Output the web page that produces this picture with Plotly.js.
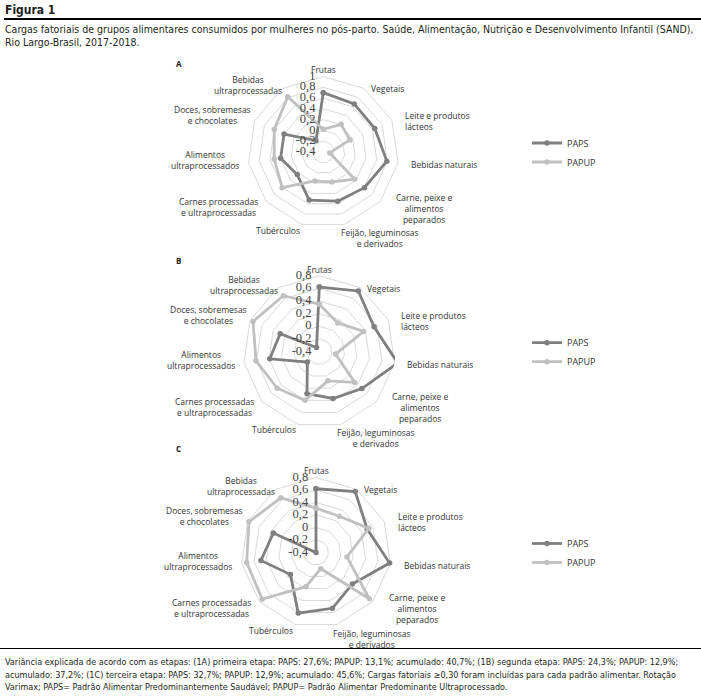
<!DOCTYPE html>
<html><head><meta charset="utf-8">
<script src="https://cdn.plot.ly/plotly-3.0.1.min.js"></script>
<style>
html,body{margin:0;padding:0;background:#fff;}
#wrap{position:relative;width:701px;height:696px;overflow:hidden;font-family:"DejaVu Sans Condensed","Liberation Sans Narrow",sans-serif;color:#231f20;}
#chart{position:absolute;left:0;top:0;width:701px;height:696px;}
.t{position:absolute;white-space:nowrap;}
.rule{position:absolute;background:#000;}
.pl{position:absolute;font-family:"Open Sans",sans-serif;font-weight:bold;font-size:8px;color:#222;}
</style></head><body>
<div id="wrap">
<div id="chart"></div>
<div class="t" style="left:5px;top:3px;font-weight:bold;font-size:12px;">Figura 1</div>
<div class="rule" style="left:4px;width:697px;top:18px;height:2px;"></div>
<div class="t" style="left:5px;top:23px;font-size:10.5px;line-height:12.5px;">Cargas fatoriais de grupos alimentares consumidos por mulheres no pós-parto. Saúde, Alimentação, Nutrição e Desenvolvimento Infantil (SAND),<br>Rio Largo-Brasil, 2017-2018.</div>
<div class="pl" style="left:176px;top:58px;">A</div>
<div class="pl" style="left:176px;top:255px;">B</div>
<div class="pl" style="left:176px;top:443px;">C</div>
<div class="rule" style="left:0px;width:701px;top:648px;height:1px;"></div>
<div class="t" style="left:5px;top:656px;font-size:9px;line-height:12.5px;">Variância explicada de acordo com as etapas: (1A) primeira etapa: PAPS: 27,6%; PAPUP: 13,1%; acumulado: 40,7%; (1B) segunda etapa: PAPS: 24,3%; PAPUP: 12,9%;<br>acumulado: 37,2%; (1C) terceira etapa: PAPS: 32,7%; PAPUP: 12,9%; acumulado: 45,6%; Cargas fatoriais ≥0,30 foram incluídas para cada padrão alimentar. Rotação<br>Varimax; PAPS= Padrão Alimentar Predominantemente Saudável; PAPUP= Padrão Alimentar Predominante Ultraprocessado.</div>
</div>
<script>
// Categories (food groups), clockwise from top
var categories = ["Frutas","Vegetais","Leite e produtos<br>lácteos","Bebidas naturais","Carne, peixe e<br>alimentos<br>peparados","Feijão, leguminosas<br>e derivados","Tubérculos","Carnes processadas<br>e ultraprocessadas","Alimentos<br>ultraprocessados","Doces, sobremesas<br>e chocolates","Bebidas<br>ultraprocessadas"];
var seriesNames = ["PAPS","PAPUP"];

// Factor loadings, panel A
var papsA  = [0.70, 0.66, 0.65, 0.79, 0.61, 0.55, 0.53, 0.24, 0.40, 0.40, -0.15];
var papupA = [0.02, 0.21, 0.14, -0.28, 0.37, 0.18, 0.16, 0.61, 0.52, 0.60, 0.82];
// Panel B
var papsB  = [0.62, 0.74, 0.55, 0.85, 0.49, 0.37, 0.29, -0.15, 0.39, 0.28, -0.32];
var papupB = [0.35, 0.14, 0.37, -0.14, 0.34, 0.08, 0.40, 0.48, 0.61, 0.75, 0.65];
// Panel C
var papsC  = [0.62, 0.76, 0.50, 0.79, 0.37, 0.53, 0.61, 0.14, 0.49, 0.35, -0.40];
var papupC = [0.31, 0.29, 0.53, 0.10, 0.73, -0.13, 0.17, 0.74, 0.72, 0.78, 0.64];

// Radial tick labels
var tickValsA = [-0.4,-0.2,0,0.2,0.4,0.6,0.8,1];
var tickTextA = ["-0,4","-0,2","0","0,2","0,4","0,6","0,8","1"];
var tickValsBC = [-0.4,-0.2,0,0.2,0.4,0.6,0.8];
var tickTextBC = ["-0,4","-0,2","0","0,2","0,4","0,6","0,8"];

// ---- presentation (positions / styles) ----
var colPAPS = "#7f7f7f", colPAPUP = "#c0c0c0";
var W = 701, H = 696;
// panel centres and radii in pixels
var panels = [
  {cx:323.3, cy:152,   R:75.5, range:[-0.4,1],   tv:tickValsA,  tt:tickTextA,  grid:"polar",  draw:"polar4", leg:"legend"},
  {cx:319.3, cy:351.7, R:76,   range:[-0.4,0.8], tv:tickValsBC, tt:tickTextBC, grid:"polar2", draw:"polar5", leg:"legend2"},
  {cx:316,   cy:552.5, R:75,   range:[-0.4,0.8], tv:tickValsBC, tt:tickTextBC, grid:"polar3", draw:"polar6", leg:"legend3"}
];
var seriesByPanel = [[papsA, papupA],[papsB, papupB],[papsC, papupC]];
// category label offsets from panel centre: [dx, dy, xanchor]
var labelOffsets = [
  [0,-82,"center"],[46,-63.5,"left"],[80,-30.5,"left"],[86,13,"left"],[100.7,56,"center"],
  [56.2,86,"center"],[-45,78,"center"],[-105,55,"center"],[-118,8,"center"],[-111.3,-36.5,"center"],[-75.5,-66.5,"center"]
];

function closeArr(a){ return a.concat([a[0]]); }
function mk(vals, name, color, polar, legend){
  return {type:"scatterpolar", r:closeArr(vals), theta:closeArr(categories), name:name,
    subplot:polar, legend:legend, mode:"lines+markers", cliponaxis:false, hoverinfo:"skip",
    line:{color:color,width:2.8}, marker:{color:color,size:5.5,symbol:"circle"}};
}
// radial value labels placed along the first (Frutas) spoke through the polar scale
function tickTrace(p){
  return {type:"scatterpolar", r:p.tv, theta:p.tv.map(function(){return categories[0];}),
    text:p.tt, subplot:p.draw, mode:"markers+text", textposition:"middle left",
    marker:{size:11, color:"rgba(0,0,0,0)"}, cliponaxis:false, showlegend:false, hoverinfo:"skip",
    textfont:{family:"Liberation Serif, serif", size:12.5, color:"#444"}};
}
// invisible anchor trace so the polygon-grid subplot is instantiated
function gridAnchor(p){
  return {type:"scatterpolar", r:[p.range[0]], theta:[categories[0]], subplot:p.grid, mode:"markers",
    marker:{size:1, color:"rgba(0,0,0,0)"}, showlegend:false, hoverinfo:"skip"};
}
var data = [];
panels.forEach(function(p, i){
  data.push(gridAnchor(p));
  data.push(mk(seriesByPanel[i][0], seriesNames[0], colPAPS, p.draw, p.leg));
  data.push(mk(seriesByPanel[i][1], seriesNames[1], colPAPUP, p.draw, p.leg));
  data.push(tickTrace(p));
});

function domainOf(p){ return {x:[(p.cx-p.R)/W,(p.cx+p.R)/W], y:[1-(p.cy+p.R)/H, 1-(p.cy-p.R)/H]}; }
// polygon grid subplot
function gridPolar(p){
  return {
    domain:domainOf(p), gridshape:"linear", bgcolor:"rgba(0,0,0,0)",
    radialaxis:{range:p.range, tickvals:p.tv, angle:90, showticklabels:false,
      showline:false, gridcolor:"#d9d9d9", gridwidth:1, ticks:""},
    angularaxis:{direction:"clockwise", rotation:90, type:"category", categoryarray:categories,
      showline:true, linecolor:"#d9d9d9", linewidth:1, showgrid:false, ticks:"", showticklabels:false}
  };
}
// same geometry, no decorations: carries the series and value labels
function drawPolar(p){
  return {
    domain:domainOf(p), gridshape:"circular", bgcolor:"rgba(0,0,0,0)",
    radialaxis:{range:p.range, angle:90, showticklabels:false, showgrid:false, showline:false, ticks:""},
    angularaxis:{direction:"clockwise", rotation:90, type:"category", categoryarray:categories,
      showline:false, showgrid:false, ticks:"", showticklabels:false}
  };
}
function legCfg(p){
  return {x:527/W, xanchor:"left", y:1-(p.cy+0.5)/H, yanchor:"middle", bgcolor:"rgba(0,0,0,0)",
    font:{family:"Open Sans, sans-serif", size:9, color:"#333"}, traceorder:"normal", itemwidth:30};
}
var annotations = [];
panels.forEach(function(p){
  categories.forEach(function(c, i){
    var o = labelOffsets[i];
    annotations.push({xref:"paper", yref:"paper", x:(p.cx+o[0])/W, y:1-(p.cy+o[1])/H,
      xanchor:o[2], yanchor:"middle", align:(o[2]==="left"?"left":"center"), showarrow:false,
      text:c, font:{family:"Open Sans, sans-serif", size:8.5, color:"#333"}});
  });
});
var layout = {
  width:W, height:H, margin:{l:0,r:0,t:0,b:0},
  paper_bgcolor:"rgba(0,0,0,0)", showlegend:true,
  polar: gridPolar(panels[0]), polar2: gridPolar(panels[1]), polar3: gridPolar(panels[2]),
  polar4: drawPolar(panels[0]), polar5: drawPolar(panels[1]), polar6: drawPolar(panels[2]),
  legend: legCfg(panels[0]), legend2: legCfg(panels[1]), legend3: legCfg(panels[2]),
  annotations: annotations
};
Plotly.newPlot("chart", data, layout, {staticPlot:true, displayModeBar:false});
</script>
</body></html>
